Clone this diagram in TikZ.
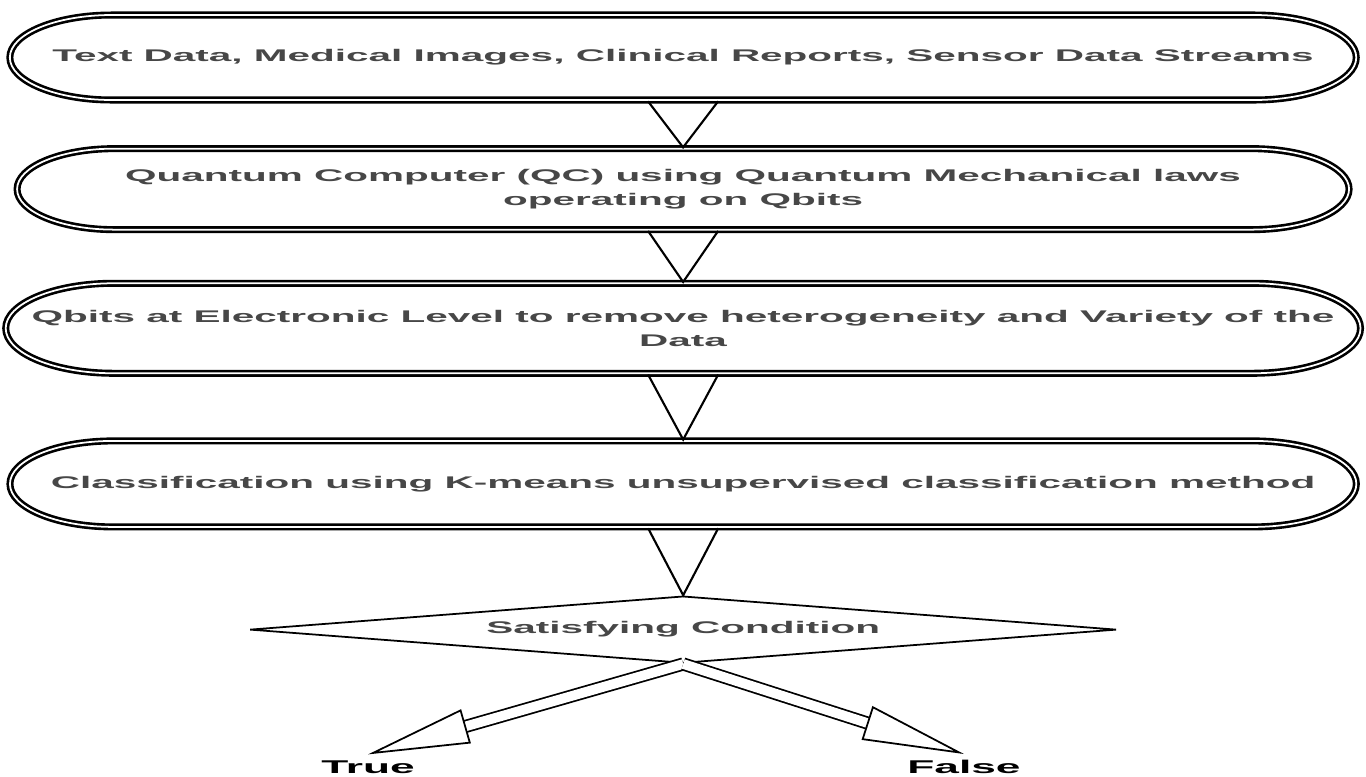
\documentclass[tikz,border=0pt]{standalone}
\usepackage{fontspec}
\setmainfont{Liberation Sans}
\usetikzlibrary{positioning,arrows.meta,shapes.misc,shapes.geometric,calc}

\newcommand{\oneline}[1]{\makebox[0pt]{#1}}

\begin{document}
\begin{tikzpicture}[
    xscale=2.4,
    font=\fontsize{9.6}{13.6}\selectfont\bfseries,
    stage/.style={draw, double, double distance=1pt, line width=1.5pt,
                  rounded rectangle, inner xsep=0pt, align=center,
                  text=black!72, transform shape},
    check/.style={draw, diamond, line width=1pt, aspect=5.4, inner sep=0pt,
                  minimum width=7.23cm, minimum height=1.34cm,
                  text=black!72, transform shape},
    outcome/.style={font=\fontsize{10.5}{12}\selectfont\bfseries, transform shape},
    vee/.style={line width=1.2pt},
    fat/.style={double, double distance=5.5pt, line width=1pt,
                -{Triangle[open, length=58pt, width=20pt]}},
  ]
    \useasboundingbox (0,0) rectangle (11.3833,-15.52);

    % Pipeline stages
    \node[stage, minimum width=11.22cm, minimum height=1.7cm] (sources) at (5.692,-1.15)
        {\oneline{Text Data, Medical Images, Clinical Reports, Sensor Data Streams}};
    \node[stage, minimum width=11.1cm, minimum height=1.62cm, below=0.92cm of sources] (qc)
        {\oneline{Quantum Computer (QC) using Quantum Mechanical laws}\\\oneline{operating on Qbits}};
    \node[stage, minimum width=11.29cm, minimum height=1.8cm, below=1.02cm of qc] (qbits)
        {\oneline{Qbits at Electronic Level to remove heterogeneity and Variety of the}\\\oneline{Data}};
    \node[stage, minimum width=11.22cm, minimum height=1.72cm, below=1.3cm of qbits] (kmeans)
        {\oneline{Classification using K-means unsupervised classification method}};

    % Decision
    \node[check, below=1.34cm of kmeans] (cond) {Satisfying Condition};
    \node[outcome] (true)  at (3.067,-15.34) {True};
    \node[outcome] (false) at (8.033,-15.34) {False};

    % Open triangles between stages
    \draw[vee] ($(sources.south)+(-0.292,0)$) -- (qc.north)     -- ($(sources.south)+(0.292,0)$);
    \draw[vee] ($(qc.south)+(-0.292,0)$)      -- (qbits.north)  -- ($(qc.south)+(0.292,0)$);
    \draw[vee] ($(qbits.south)+(-0.292,0)$)   -- (kmeans.north) -- ($(qbits.south)+(0.292,0)$);
    \draw[vee] ($(kmeans.south)+(-0.292,0)$)  -- (cond.north)   -- ($(kmeans.south)+(0.292,0)$);

    % Branches
    \draw[fat] (cond.south) -- (true.north);
    \draw[fat] (cond.south) -- (false.north);
  \end{tikzpicture}
\end{document}
